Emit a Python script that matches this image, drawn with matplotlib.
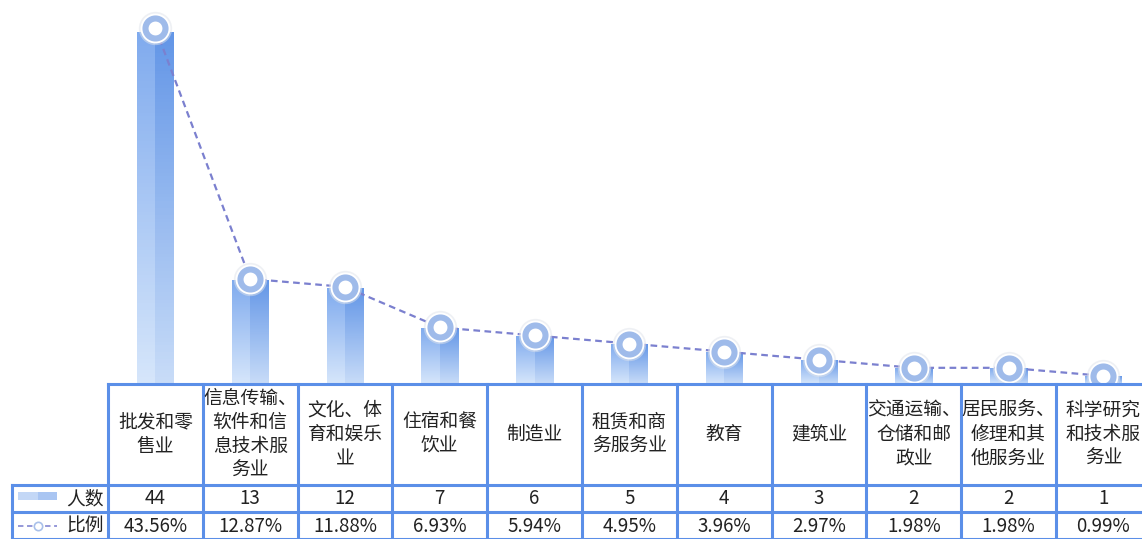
import numpy as np
import matplotlib
matplotlib.use("Agg")
import matplotlib.pyplot as plt
from matplotlib.colors import LinearSegmentedColormap

plt.rcParams['font.family'] = ['Noto Sans CJK SC', 'DejaVu Sans']

# data
categories = ["批发和零\n售业", "信息传输、\n软件和信\n息技术服\n务业", "文化、体\n育和娱乐\n业",
              "住宿和餐\n饮业", "制造业", "租赁和商\n务服务业", "教育", "建筑业",
              "交通运输、\n仓储和邮\n政业", "居民服务、\n修理和其\n他服务业", "科学研究\n和技术服\n务业"]
counts = [44, 13, 12, 7, 6, 5, 4, 3, 2, 2, 1]
ratios = [43.56, 12.87, 11.88, 6.93, 5.94, 4.95, 3.96, 2.97, 1.98, 1.98, 0.99]
count_name = "人数"
ratio_name = "比例"

# layout in pixels (figure is 1142 x 539)
W, H = 1142, 539
x0, colw = 108, 94.8          # left edge of first data column, column width
lab_x = 12                    # left edge of the row label column
top = 384                     # top of the table / baseline of the bars
r1, r2, r3 = 485, 512, 539    # row borders
n = len(counts)
line_col = '#5b8fe8'

fig = plt.figure(figsize=(W / 100, H / 100), dpi=100)

# bar axes sits on top of the table, one category per column
ax = fig.add_axes([x0 / W, (H - top) / H, n * colw / W, top / H])
bw = 0.39
grad = np.linspace(0, 1, 100).reshape(-1, 1)
cm_left = LinearSegmentedColormap.from_list('l', ['#d6e6fb', '#80abee'])
cm_right = LinearSegmentedColormap.from_list('r', ['#c8dcf8', '#6396e7'])
for i, v in enumerate(counts):
    ax.imshow(grad, extent=[i - bw / 2, i, 0, v], origin='lower', aspect='auto', cmap=cm_left, zorder=2)
    ax.imshow(grad, extent=[i, i + bw / 2, 0, v], origin='lower', aspect='auto', cmap=cm_right, zorder=2)
ax.set_xlim(-0.5, n - 0.5)
ax.set_ylim(0, 48)
ax.axis('off')

# ratio line on its own scale
ax2 = ax.twinx()
xs = np.arange(n)
ax2.plot(xs, ratios, ls=(0, (3, 2)), color='#7b80cf', lw=1.6, zorder=2)
# soft shadow, white rim, blue ring
ax2.plot(xs, ratios, 'o', ms=24, mfc='#dfe3ea', mec='none', alpha=0.5, zorder=3)
ax2.plot(xs, ratios, 'o', ms=21.5, mfc='white', mec='none', zorder=3)
ax2.plot(xs, ratios, 'o', ms=14.4, mfc='white', mec='#9fbbea', mew=4.4, zorder=4)
ax2.set_ylim(0, 47)
ax2.axis('off')

# table drawn in pixel coordinates
tb = fig.add_axes([0, 0, 1, 1])
tb.set_xlim(0, W)
tb.set_ylim(H, 0)
tb.axis('off')
right = x0 + n * colw
lw = 2.2
tb.plot([x0, right], [top, top], color=line_col, lw=lw)
for y in [r1, r2, r3]:
    tb.plot([lab_x, right], [y, y], color=line_col, lw=lw)
tb.plot([lab_x, lab_x], [r1, r3], color=line_col, lw=lw)
for j in range(n + 1):
    tb.plot([x0 + j * colw, x0 + j * colw], [top, r3], color=line_col, lw=lw)

fs = 13.5
for i in range(n):
    cx = x0 + (i + 0.5) * colw
    tb.text(cx, (top + r1) / 2, categories[i], ha='center', va='center', fontsize=fs,
            linespacing=1.2, color='#222222')
    tb.text(cx, (r1 + r2) / 2, str(counts[i]), ha='center', va='center', fontsize=fs, color='#222222')
    tb.text(cx, (r2 + r3) / 2 + 1, f"{ratios[i]:.2f}%", ha='center', va='center', fontsize=fs, color='#222222')

# row labels with legend swatches
tb.text(x0 - 4, (r1 + r2) / 2, count_name, ha='right', va='center', fontsize=fs, color='#222222')
tb.text(x0 - 4, (r2 + r3) / 2 + 1, ratio_name, ha='right', va='center', fontsize=fs, color='#222222')
tb.fill_between([18, 38], 492, 500, color='#c3d7f6', lw=0)
tb.fill_between([38, 57], 492, 500, color='#a9c5f2', lw=0)
tb.plot([18, 57], [526, 526], ls=(0, (3, 2)), color='#8c90d6', lw=1.3)
tb.plot([38], [526], 'o', ms=6, mfc='white', mec='#a9c0ea', mew=1.2)

fig.savefig('out.png', dpi=100)
